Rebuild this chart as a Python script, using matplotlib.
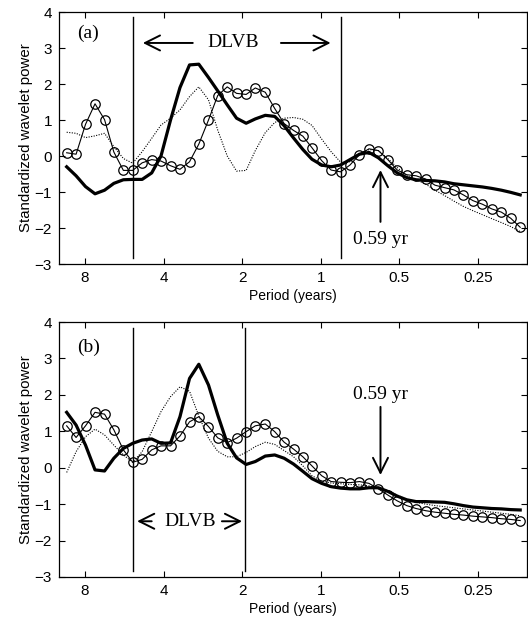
import matplotlib
matplotlib.use("Agg")
import matplotlib.pyplot as plt

# ==== data ====
PERIOD = [9.40, 8.65, 7.96, 7.32, 6.73, 6.20, 5.70, 5.25, 4.83, 4.44,
          4.09, 3.76, 3.46, 3.18, 2.93, 2.69, 2.48, 2.28, 2.10, 1.93,
          1.78, 1.63, 1.50, 1.38, 1.27, 1.17, 1.08, 0.991, 0.912, 0.839,
          0.772, 0.710, 0.653, 0.601, 0.553, 0.509, 0.468, 0.431, 0.396, 0.365,
          0.335, 0.309, 0.284, 0.261, 0.240, 0.221, 0.203, 0.187, 0.172]

# panel (a)
A_SOLID = [-0.30, -0.55, -0.85, -1.05, -0.95, -0.76, -0.66, -0.65, -0.65, -0.47,
           0.00, 1.00, 1.90, 2.53, 2.55, 2.18, 1.81, 1.42, 1.05, 0.91,
           1.03, 1.13, 1.10, 0.84, 0.50, 0.18, -0.09, -0.25, -0.30, -0.25,
           -0.10, 0.05, 0.10, -0.05, -0.27, -0.47, -0.60, -0.66, -0.68, -0.69,
           -0.72, -0.77, -0.80, -0.83, -0.86, -0.90, -0.95, -1.01, -1.08]
A_CIRCLE = [0.09, 0.05, 0.88, 1.45, 1.01, 0.11, -0.40, -0.40, -0.19, -0.10,
            -0.14, -0.27, -0.37, -0.16, 0.33, 1.00, 1.68, 1.92, 1.74, 1.71,
            1.89, 1.77, 1.32, 0.90, 0.71, 0.55, 0.23, -0.13, -0.39, -0.44,
            -0.25, 0.04, 0.20, 0.15, -0.10, -0.39, -0.52, -0.55, -0.64, -0.81,
            -0.88, -0.94, -1.08, -1.24, -1.34, -1.47, -1.56, -1.73, -1.98]
A_DOTTED = [0.66, 0.63, 0.51, 0.56, 0.63, 0.26, -0.07, -0.20, 0.12, 0.49,
            0.86, 1.05, 1.28, 1.65, 1.92, 1.56, 0.72, 0.00, -0.42, -0.40,
            0.15, 0.65, 0.93, 1.05, 1.07, 1.02, 0.85, 0.47, 0.12, -0.17,
            -0.16, 0.08, 0.18, 0.15, -0.07, -0.32, -0.55, -0.66, -0.78, -0.95,
            -1.10, -1.25, -1.40, -1.52, -1.63, -1.74, -1.85, -1.96, -2.10]

# panel (b)
B_SOLID = [1.52, 1.17, 0.62, -0.06, -0.09, 0.26, 0.53, 0.67, 0.76, 0.79,
           0.67, 0.68, 1.40, 2.45, 2.84, 2.27, 1.45, 0.67, 0.27, 0.09,
           0.17, 0.32, 0.35, 0.26, 0.10, -0.10, -0.30, -0.43, -0.52, -0.56,
           -0.58, -0.58, -0.55, -0.55, -0.65, -0.78, -0.88, -0.93, -0.93, -0.94,
           -0.95, -0.99, -1.04, -1.08, -1.10, -1.12, -1.13, -1.15, -1.16]
B_CIRCLE = [1.15, 0.83, 1.15, 1.52, 1.47, 1.04, 0.49, 0.15, 0.23, 0.49,
            0.60, 0.60, 0.87, 1.26, 1.40, 1.13, 0.82, 0.69, 0.81, 0.99,
            1.15, 1.20, 0.99, 0.70, 0.51, 0.30, 0.05, -0.22, -0.38, -0.40,
            -0.41, -0.38, -0.43, -0.58, -0.75, -0.91, -1.04, -1.12, -1.18, -1.22,
            -1.25, -1.28, -1.30, -1.33, -1.35, -1.37, -1.40, -1.42, -1.45]
B_DOTTED = [-0.13, 0.44, 0.85, 1.06, 0.90, 0.62, 0.35, 0.15, 0.44, 0.99,
            1.54, 1.95, 2.22, 2.10, 1.42, 0.81, 0.45, 0.30, 0.30, 0.42,
            0.58, 0.70, 0.64, 0.47, 0.30, 0.05, -0.22, -0.36, -0.42, -0.44,
            -0.46, -0.47, -0.50, -0.55, -0.63, -0.75, -0.87, -0.95, -1.00, -1.04,
            -1.07, -1.10, -1.13, -1.16, -1.19, -1.22, -1.25, -1.28, -1.32]

X_TICKS = [8, 4, 2, 1, 0.5, 0.25]
X_TICKLABELS = ["8", "4", "2", "1", "0.5", "0.25"]
Y_TICKS = [-3, -2, -1, 0, 1, 2, 3, 4]

A_LINES = [5.25, 0.838]
B_LINES = [5.25, 1.95]
MARK_PERIOD = 0.59

SANS = "Liberation Sans"
SERIF = "Liberation Serif"


def style_axes(ax):
    ax.set_xscale("log", base=2)
    ax.set_xlim(10.06, 0.162)
    ax.set_ylim(-3, 4)
    ax.set_xticks(X_TICKS)
    ax.set_xticklabels(X_TICKLABELS)
    ax.minorticks_off()
    ax.set_yticks(Y_TICKS)
    ax.tick_params(direction="in", length=4, width=0.8, top=True, right=True,
                   labelsize=11, pad=5)
    for lab in ax.get_xticklabels() + ax.get_yticklabels():
        lab.set_family(SANS)
    for sp in ax.spines.values():
        sp.set_linewidth(0.9)
    ax.set_xlabel("Period (years)", family=SANS, fontsize=10, labelpad=3)
    ax.set_ylabel("Standardized wavelet power", family=SANS, fontsize=10.8,
                  labelpad=1)


def draw_curves(ax, solid, circle, dotted):
    ax.plot(PERIOD, dotted, color="black", lw=0.8, ls=(0, (1, 1.3)))
    ax.plot(PERIOD, circle, color="black", lw=0.8, marker="o", ms=6.8,
            mfc="none", mec="black", mew=0.9)
    ax.plot(PERIOD, solid, color="black", lw=2.3)


fig = plt.figure(figsize=(5.28, 6.25), dpi=100)
ax_a = fig.add_axes([0.1117, 0.5776, 0.8864, 0.4032])
ax_b = fig.add_axes([0.1117, 0.0768, 0.8864, 0.4080])

arrow_kw = dict(arrowstyle="->,head_length=0.6,head_width=0.3", color="black",
                lw=1.4, mutation_scale=18, shrinkA=0, shrinkB=0)

# ---- panel (a) ----
draw_curves(ax_a, A_SOLID, A_CIRCLE, A_DOTTED)
for p in A_LINES:
    ax_a.axvline(p, ymin=0.024, ymax=0.98, color="black", lw=1.0)
ax_a.text(0.038, 0.917, "(a)", transform=ax_a.transAxes, family=SERIF,
          fontsize=14, ha="left", va="center")
ax_a.text(2.17, 3.14, "DLVB", family=SERIF, fontsize=14, ha="center", va="center")
ax_a.annotate("", xy=(4.8, 3.14), xytext=(3.09, 3.14), arrowprops=arrow_kw)
ax_a.annotate("", xy=(0.916, 3.14), xytext=(1.42, 3.14), arrowprops=arrow_kw)
ax_a.annotate("", xy=(MARK_PERIOD, -0.39), xytext=(MARK_PERIOD, -1.83),
              arrowprops=arrow_kw)
ax_a.text(MARK_PERIOD, -2.33, "0.59 yr", family=SERIF, fontsize=14,
          ha="center", va="center")
style_axes(ax_a)

# ---- panel (b) ----
draw_curves(ax_b, B_SOLID, B_CIRCLE, B_DOTTED)
for p in B_LINES:
    ax_b.axvline(p, ymin=0.024, ymax=0.975, color="black", lw=1.0)
ax_b.text(0.038, 0.902, "(b)", transform=ax_b.transAxes, family=SERIF,
          fontsize=14, ha="left", va="center")
ax_b.text(3.16, -1.47, "DLVB", family=SERIF, fontsize=14, ha="center", va="center")
ax_b.annotate("", xy=(5.05, -1.47), xytext=(4.44, -1.47), arrowprops=arrow_kw)
ax_b.annotate("", xy=(2.0, -1.47), xytext=(2.39, -1.47), arrowprops=arrow_kw)
ax_b.annotate("", xy=(MARK_PERIOD, -0.2), xytext=(MARK_PERIOD, 1.67),
              arrowprops=arrow_kw)
ax_b.text(MARK_PERIOD, 2.0, "0.59 yr", family=SERIF, fontsize=14,
          ha="center", va="center")
style_axes(ax_b)

fig.savefig("out.png", dpi=100)
